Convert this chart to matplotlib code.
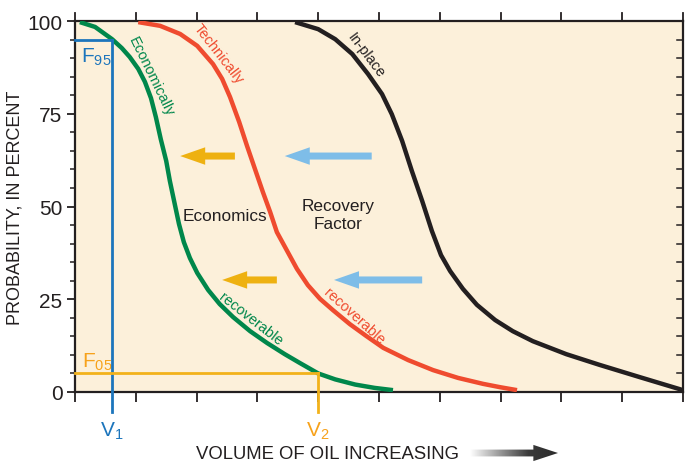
import numpy as np
import matplotlib
matplotlib.use("Agg")
import matplotlib.pyplot as plt
from matplotlib.patches import Polygon
from matplotlib.colors import LinearSegmentedColormap

plt.rcParams['font.family'] = ['Liberation Sans', 'DejaVu Sans']
plt.rcParams['mathtext.fontset'] = 'custom'
plt.rcParams['mathtext.rm'] = 'Liberation Sans'
plt.rcParams['mathtext.it'] = 'Liberation Sans'

# ---- data ----
green_x = [0.08, 0.33, 0.61, 0.77, 0.90, 1.04, 1.15, 1.25, 1.33, 1.41, 1.50, 1.56, 1.64, 1.71,
           1.79, 1.89, 2.01, 2.19, 2.38, 2.60, 2.88, 3.16, 3.45, 3.70, 4.00, 4.28, 4.61, 4.93, 5.23]
green_y = [99.7, 98.4, 95.1, 92.7, 90.3, 87.1, 83.6, 79.2, 74.1, 68.2, 62.3, 56.9, 50.7, 45.3,
           40.4, 36.1, 32.1, 27.5, 23.7, 20.2, 16.4, 13.2, 10.2, 7.8, 5.0, 3.4, 2.0, 1.1, 0.5]

red_x = [1.04, 1.40, 1.73, 2.01, 2.27, 2.42, 2.55, 2.70, 2.83, 2.96, 3.09, 3.21, 3.32, 3.49,
         3.65, 3.83, 4.03, 4.24, 4.52, 4.79, 5.07, 5.48, 5.89, 6.30, 6.71, 6.99, 7.27]
red_y = [99.7, 98.7, 96.5, 93.3, 88.4, 84.4, 79.5, 72.8, 66.3, 60.1, 53.9, 48.5, 43.1, 38.0,
         33.2, 28.8, 25.1, 22.1, 18.3, 15.1, 11.9, 8.6, 5.9, 3.8, 2.2, 1.3, 0.5]

black_x = [3.62, 4.00, 4.28, 4.56, 4.82, 5.05, 5.21, 5.38, 5.54, 5.71, 5.87, 6.02, 6.17, 6.38,
           6.61, 6.91, 7.20, 7.53, 8.08, 8.63, 9.29, 10.0]
black_y = [99.7, 97.8, 95.1, 91.1, 85.7, 80.3, 74.9, 67.7, 59.6, 51.5, 43.4, 36.9, 32.6, 27.8,
           23.5, 19.4, 16.4, 13.7, 10.2, 7.3, 4.0, 0.5]

v1, f95 = 0.61, 95
v2, f05 = 4.0, 5
y_ticks = [0, 25, 50, 75, 100]

# arrows: (tail_x, head_x, y)
yellow_arrows = [(2.63, 1.73, 63.6), (3.32, 2.42, 30.2)]
blue_arrows = [(4.88, 3.45, 63.6), (5.71, 4.26, 30.2)]

# ---- colours ----
BG = '#FCF0DA'
GREEN = '#00874B'
RED = '#EF4B2F'
BLACK = '#231F20'
BLUE = '#1C75BC'
ORANGE_LINE = '#F2B21B'
ORANGE_TXT = '#F7A21B'
ARROW_Y = '#EEB111'
ARROW_B = '#7EBDE8'

fig = plt.figure(figsize=(6.86, 4.64), dpi=100)
ax = fig.add_axes([75/686, 1-393/464, 608/686, 371/464])
ax.set_facecolor(BG)
ax.set_xlim(0, 10)
ax.set_ylim(0, 100)

kw = dict(lw=3.2, solid_capstyle='butt', solid_joinstyle='round', zorder=3)
ax.plot(black_x, black_y, color=BLACK, **kw)
ax.plot(red_x, red_y, color=RED, **kw)
ax.plot(green_x, green_y, color=GREEN, **kw)

# F95 / V1
ax.plot([0, v1], [f95, f95], color=BLUE, lw=2, zorder=4, clip_on=False)
ax.plot([v1, v1], [f95, -5.5], color=BLUE, lw=2, zorder=4, clip_on=False)
# F05 / V2
ax.plot([0, v2], [f05, f05], color=ORANGE_LINE, lw=2, zorder=4, clip_on=False)
ax.plot([v2, v2], [f05, -5.5], color=ORANGE_LINE, lw=2, zorder=4, clip_on=False)

ax.text(0.10, 89.0, r'F$_{95}$', color=BLUE, fontsize=15, ha='left', va='baseline')
ax.text(0.12, 6.8, r'F$_{05}$', color=ORANGE_TXT, fontsize=15, ha='left', va='baseline')
tr = ax.get_xaxis_transform()
ax.text(v1, -0.119, r'V$_{1}$', color=BLUE, fontsize=15, ha='center', va='baseline', transform=tr)
ax.text(v2, -0.119, r'V$_{2}$', color=ORANGE_TXT, fontsize=15, ha='center', va='baseline', transform=tr)


# curve labels: anchored on the curve, offset perpendicular (towards upper right)
def curve_label(txt, x, y, rot, color, off=2.5):
    r = np.deg2rad(rot)
    dx, dy = -np.sin(r) * off, np.cos(r) * off
    ax.annotate(txt, xy=(x, y), xytext=(dx, dy), textcoords='offset points',
                rotation=rot, rotation_mode='anchor', ha='center', va='bottom',
                fontsize=10.5, color=color, zorder=5)


curve_label('Economically', 1.13, 84.3, -64, GREEN, off=1.2)
curve_label('Technically', 2.22, 89.6, -52, RED, off=2.4)
curve_label('In-place', 4.64, 89.2, -53, BLACK, off=3.0)
curve_label('recoverable', 2.78, 17.5, -38, GREEN)
curve_label('recoverable', 4.47, 18.6, -42, RED)

ax.text(2.47, 47.7, 'Economics', color=BLACK, fontsize=12.4, ha='center', va='center')
ax.text(4.33, 47.9, 'Recovery\nFactor', color=BLACK, fontsize=12.4, ha='center', va='center',
        linespacing=1.25)

astyle = 'simple,head_length=1.5,head_width=1.05,tail_width=0.42'
for (tx, hx, yy) in yellow_arrows:
    ax.annotate('', xy=(hx, yy), xytext=(tx, yy),
                arrowprops=dict(arrowstyle=astyle, color=ARROW_Y, shrinkA=0, shrinkB=0,
                                mutation_scale=12, lw=0))
for (tx, hx, yy) in blue_arrows:
    ax.annotate('', xy=(hx, yy), xytext=(tx, yy),
                arrowprops=dict(arrowstyle=astyle, color=ARROW_B, shrinkA=0, shrinkB=0,
                                mutation_scale=12, lw=0))

# spines & ticks
for s in ax.spines.values():
    s.set_color(BLACK)
    s.set_linewidth(1.6)

ax.set_xticks(np.arange(0, 11, 1))
ax.set_xticklabels([])
ax.tick_params(axis='x', which='major', direction='out', length=7, width=1.3,
               color=BLACK, top=False, bottom=True)
# top outward ticks (slightly shorter)
for xv in np.arange(0, 11, 1):
    ax.plot([xv / 10, xv / 10], [1.0, 1.0 + 8/371], transform=ax.transAxes, color=BLACK,
            lw=1.3, clip_on=False, zorder=5)
ax.set_yticks(y_ticks)
ax.set_yticklabels([str(t) for t in y_ticks], fontsize=15, color=BLACK)
ax.set_yticks(np.arange(0, 101, 5), minor=True)
ax.tick_params(axis='y', which='major', direction='out', length=6, width=1.3, color=BLACK,
               left=True, right=False, pad=3)
ax.tick_params(axis='y', which='minor', direction='out', length=3.6, width=1.1, color=BLACK,
               left=True, right=False)

# right-side inward minor ticks
for yv in np.arange(5, 100, 5):
    ax.plot([1.0, 1.0 - 6/608], [yv/100, yv/100], transform=ax.transAxes, color=BLACK,
            lw=1.1, clip_on=False, zorder=5)

ax.set_ylabel('PROBABILITY, IN PERCENT', fontsize=13, color=BLACK, labelpad=3)
fig.text(328/686, 1-455/464, 'VOLUME OF OIL INCREASING', fontsize=13.3, color=BLACK,
         ha='center', va='center')

# gradient arrow next to the x label
aax = fig.add_axes([470/686, 1-464/464 + 1/464, 88/686, 18/464])
aax.set_xlim(0, 1)
aax.set_ylim(-1, 1)
aax.axis('off')
grad = np.linspace(0, 1, 256).reshape(1, -1)
cmap = LinearSegmentedColormap.from_list('g', ['#FFFFFF', '#9A9A9A', '#3A3A3A', '#2B2B2B'])
im = aax.imshow(grad, extent=[0, 1, -1, 1], aspect='auto', cmap=cmap)
poly = Polygon([[0, -0.38], [0.72, -0.38], [0.72, -0.9], [1.0, 0], [0.72, 0.9],
                [0.72, 0.38], [0, 0.38]], closed=True, transform=aax.transData,
               facecolor='none', edgecolor='none')
aax.add_patch(poly)
im.set_clip_path(poly)

fig.savefig('out.png', dpi=100)
